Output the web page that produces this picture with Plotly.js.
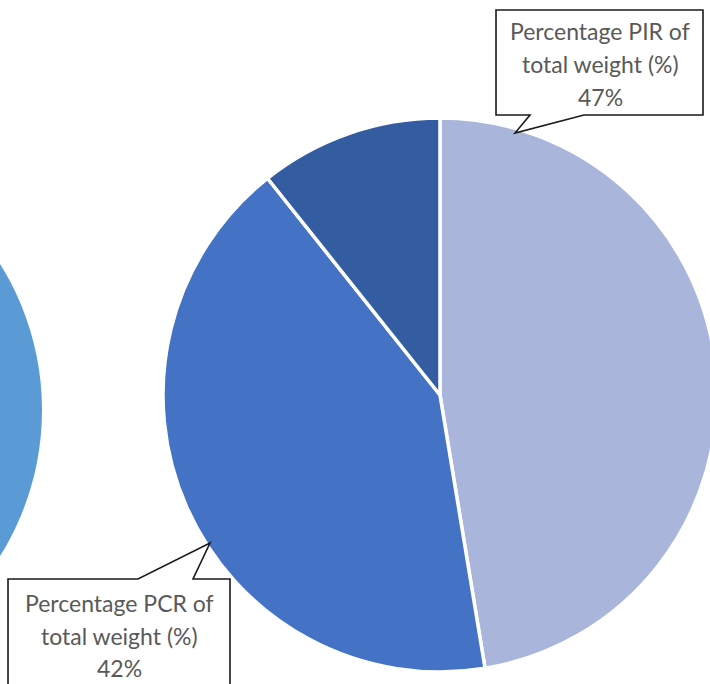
<!DOCTYPE html>
<html>
<head>
<meta charset="utf-8">
<script src="https://cdn.plot.ly/plotly-3.0.1.min.js"></script>
<style>
  html, body { margin: 0; padding: 0; width: 710px; height: 684px; overflow: hidden; background: #fff; }
  #chart { position: absolute; left: -600px; top: -20px; }
</style>
</head>
<body>
<div id="chart"></div>
<script>
// ---- data ----
const sliceLabels = ["Percentage PIR of total weight (%)", "Percentage PCR of total weight (%)", "Other (%)"];
const sliceValues = [47.4, 41.9, 10.7];
const sliceColors = ["#A9B5DA", "#4472C4", "#335CA1"];

// neighbouring chart, almost fully outside the frame
const leftLabels = ["Neighbouring chart"];
const leftValues = [100];
const leftColors = ["#5B9BD5"];

// ---- figure geometry (figure is larger than the window and shifted) ----
const W = 1400, H = 720, OFFX = 600, OFFY = 20;
const px = x => (x + OFFX) / W;          // page x -> paper x
const py = y => 1 - (y + OFFY) / H;      // page y -> paper y

function dom(cx, cy, r) {
  return { x: [px(cx - r), px(cx + r)], y: [py(cy + r), py(cy - r)] };
}

const total = sliceValues.reduce((a, b) => a + b, 0);
const pct = v => Math.round(v / total * 100) + "%";

const traces = [
  {
    type: "pie",
    labels: leftLabels, values: leftValues,
    marker: { colors: leftColors, line: { color: "#fff", width: 0 } },
    domain: dom(-233, 410, 275),
    textinfo: "none", hoverinfo: "skip", sort: false, showlegend: false
  },
  {
    type: "pie",
    labels: sliceLabels, values: sliceValues,
    marker: { colors: sliceColors, line: { color: "#ffffff", width: 3.5 } },
    domain: dom(440, 395, 277),
    direction: "clockwise", rotation: 0, sort: false,
    textinfo: "none", hoverinfo: "skip", showlegend: false
  }
];

function bubblePath(pts) {
  return "M " + pts.map(p => px(p[0]).toFixed(5) + "," + py(p[1]).toFixed(5)).join(" L ") + " Z";
}

const shapes = [
  { type: "path", xref: "paper", yref: "paper",
    path: bubblePath([[496,10],[703,10],[703,115],[584,115],[515,133],[530,115],[496,115]]),
    fillcolor: "#ffffff", line: { color: "#1a1a1a", width: 1.6 } },
  { type: "path", xref: "paper", yref: "paper",
    path: bubblePath([[8,579],[138,579],[210,543],[193,579],[230,579],[230,720],[8,720]]),
    fillcolor: "#ffffff", line: { color: "#1a1a1a", width: 1.6 } }
];

function splitLabel(lbl) {
  const i = lbl.indexOf(" of ");
  return [lbl.slice(0, i + 3), lbl.slice(i + 4)];
}

const font = { family: "Lato, 'Open Sans', sans-serif", size: 23, color: "#595959" };
const annotations = [];
function addLabel(idx, cx, ys) {
  const parts = splitLabel(sliceLabels[idx]).concat([pct(sliceValues[idx])]);
  parts.forEach((t, k) => annotations.push({
    xref: "paper", yref: "paper", x: px(cx), y: py(ys[k]),
    xanchor: "center", yanchor: "middle", text: t, showarrow: false, font: font
  }));
}
addLabel(0, 600, [31, 64, 97]);
addLabel(1, 119, [603, 636, 668]);

const layout = {
  width: W, height: H,
  margin: { l: 0, r: 0, t: 0, b: 0 },
  paper_bgcolor: "#ffffff", plot_bgcolor: "#ffffff",
  showlegend: false,
  shapes: shapes,
  annotations: annotations
};

Plotly.newPlot("chart", traces, layout, { displayModeBar: false, staticPlot: true });
</script>
</body>
</html>
